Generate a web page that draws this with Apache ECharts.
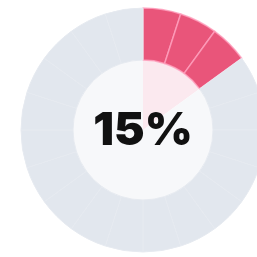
<!DOCTYPE html>
<html><head><meta charset="utf-8">
<script src="https://cdn.jsdelivr.net/npm/echarts@6/dist/echarts.min.js"></script>
<style>html,body{margin:0;padding:0;background:#fff}#c{width:257px;height:257px}</style>
</head><body><div id="c"></div>
<script>
const percentLabel = ['15%'];
const filledSegments = [5, 5, 5];
const emptySegments = [5, 5, 5, 5, 5, 5, 5, 5, 5, 5, 5, 5, 5, 5, 5, 5, 5];
const innerValues = [15, 85];

const chart = echarts.init(document.getElementById('c'), null, {renderer: 'canvas'});
const ringData = filledSegments.map(v => ({value: v, itemStyle: {color: '#e9557a', borderColor: 'rgba(255,160,190,0.8)', borderWidth: 1.5}}))
  .concat(emptySegments.map(v => ({value: v, itemStyle: {color: '#e2e7ee', borderColor: 'rgba(230,234,240,1)', borderWidth: 1}})));
chart.setOption({
  animation: false,
  series: [
    {
      type: 'pie', radius: [0, 70], center: [143, 130], startAngle: 90, clockwise: true,
      silent: true, label: {show: false}, labelLine: {show: false},
      itemStyle: {borderWidth: 0},
      data: [
        {value: innerValues[0], itemStyle: {color: '#fbe9ef'}},
        {value: innerValues[1], itemStyle: {color: '#f7f8fa'}}
      ]
    },
    {
      type: 'pie', radius: [70, 122], center: [143, 130], startAngle: 90, clockwise: true,
      silent: true, label: {show: false}, labelLine: {show: false},
      data: ringData
    }
  ],
  graphic: [{
    type: 'text', x: 143, y: 131, z: 10,
    style: {text: percentLabel[0], fill: '#111111', font: '900 46px Inter', align: 'center', verticalAlign: 'middle'}
  }]
});
</script></body></html>
